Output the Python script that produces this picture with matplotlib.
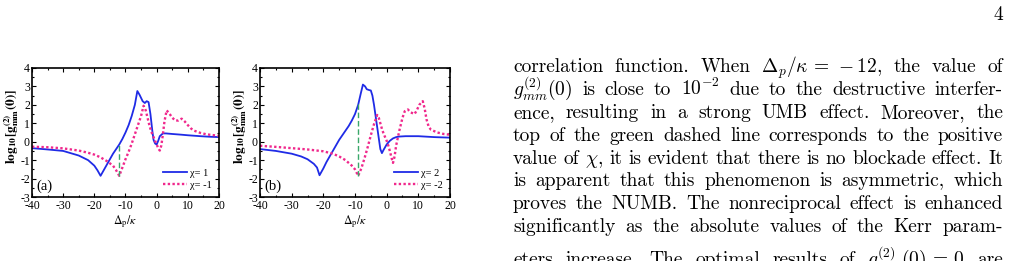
import matplotlib
matplotlib.use('Agg')
import matplotlib.pyplot as plt
from matplotlib.ticker import MultipleLocator

plt.rcParams['font.family'] = ['Liberation Serif', 'DejaVu Serif']
plt.rcParams['mathtext.fontset'] = 'cm'

W, H = 1011, 261

# panel (a): chi = 1 / chi = -1
a_pos_x = [-40, -35, -30, -25, -22, -20, -19, -18, -17, -16, -15, -14, -13, -12, -11, -10, -9, -8, -7,
           -6.2, -5.5, -4.5, -3.8, -3.2, -2.6, -2, -1.4, -1, -0.5, 0, 0.5, 1, 2, 3, 5, 8, 10, 14, 17, 20]
a_pos_y = [-0.35, -0.42, -0.5, -0.75, -1.0, -1.3, -1.55, -1.85, -1.55, -1.25, -0.95, -0.65, -0.4, -0.15,
           0.15, 0.5, 0.9, 1.4, 2.0, 2.75, 2.55, 2.2, 2.1, 2.2, 2.15, 1.5, 0.6, 0.1, -0.1, -0.15, 0.05,
           0.3, 0.45, 0.45, 0.42, 0.38, 0.35, 0.3, 0.27, 0.25]
a_neg_x = [-40, -35, -30, -25, -22, -20, -18, -16, -14, -13, -12, -11, -10, -9, -8, -7, -6, -5, -4.2,
           -3.5, -3, -2.5, -2, -1.5, -1, -0.5, 0, 0.5, 1, 1.5, 2, 2.5, 3.2, 4, 5, 6, 7, 8, 9, 10, 11,
           12, 14, 16, 18, 20]
a_neg_y = [-0.27, -0.3, -0.36, -0.48, -0.6, -0.7, -0.85, -1.05, -1.3, -1.55, -1.85, -1.4, -0.95, -0.55,
           -0.1, 0.4, 0.9, 1.4, 1.95, 1.7, 1.35, 1.0, 0.7, 0.45, 0.25, 0.05, -0.15, -0.35, -0.48, -0.2,
           0.4, 1.1, 1.7, 1.55, 1.3, 1.15, 1.15, 1.25, 1.1, 0.9, 0.72, 0.6, 0.48, 0.4, 0.36, 0.32]
a_mark_x = -12
a_mark_y = [-1.85, -0.15]

# panel (b): chi = 2 / chi = -2
b_pos_x = [-40, -35, -30, -27, -25, -23, -22, -21.2, -20, -19, -18, -17, -16, -15, -14, -13, -12, -11,
           -10, -9, -8.2, -7.5, -6.8, -6.3, -5.5, -5, -4.5, -4, -3.5, -3, -2.5, -2, -1.5, -1, 0, 1, 2,
           3, 4, 6, 10, 15, 20]
b_pos_y = [-0.4, -0.5, -0.65, -0.8, -0.95, -1.2, -1.4, -1.82, -1.45, -1.1, -0.8, -0.5, -0.2, 0.1, 0.35,
           0.6, 0.85, 1.15, 1.5, 2.0, 2.6, 3.1, 3.0, 2.85, 2.8, 2.78, 2.5, 2.0, 1.4, 0.8, 0.2, -0.4,
           -0.62, -0.45, -0.15, 0.05, 0.18, 0.25, 0.28, 0.3, 0.3, 0.25, 0.22]
b_neg_x = [-40, -35, -30, -25, -20, -17, -15, -13, -12, -11, -10, -9, -8, -7, -6, -5, -4, -3, -2.5, -2,
           -1.5, -1, -0.5, 0, 0.5, 1, 1.5, 2, 2.5, 3, 3.5, 4, 5, 5.7, 6.7, 7.5, 8.8, 9.5, 10.3, 11.4,
           12, 12.6, 13.3, 14, 16, 18, 20]
b_neg_y = [-0.22, -0.28, -0.35, -0.42, -0.52, -0.65, -0.8, -1.0, -1.15, -1.3, -1.5, -1.85, -1.45, -0.9,
           -0.3, 0.35, 0.95, 1.45, 1.3, 1.0, 0.7, 0.45, 0.25, 0.05, -0.2, -0.5, -0.85, -1.15, -0.8,
           -0.2, 0.2, 0.6, 1.3, 1.65, 1.75, 1.6, 1.5, 1.7, 2.0, 2.2, 1.8, 1.2, 0.8, 0.65, 0.5, 0.42,
           0.38]
b_mark_x = -9
b_mark_y = [-1.85, 2.05]

x_ticks = [-40, -30, -20, -10, 0, 10, 20]
x_tick_labels = ['-40', '-30', '-20', '-10', '0', '10', '20']
y_ticks = [-3, -2, -1, 0, 1, 2, 3, 4]
y_tick_labels = ['-3', '-2', '-1', '0', '1', '2', '3', '4']

text_lines = [
    r'correlation function.  When $\Delta_p/\kappa\,=\,-12$, the value of',
    r'$g_{mm}^{(2)}(0)$ is close to $10^{-2}$ due to the destructive interfer-',
    r'ence, resulting in a strong UMB effect.  Moreover, the',
    r'top of the green dashed line corresponds to the positive',
    r'value of $\chi$, it is evident that there is no blockade effect. It',
    r'is apparent that this phenomenon is asymmetric, which',
    r'proves the NUMB. The nonreciprocal effect is enhanced',
    r'significantly as the absolute values of the Kerr param-',
    r'eters increase.  The optimal results of $g_{mm}^{(2)}(0)\,=\,0$ are',
]

BLUE = '#1f2be6'
PINK = '#f0288c'
GREEN = '#3aa86a'


def fx(px):
    return px / W


def fy(py):
    return 1 - py / H


def panel(fig, left, right, top, bottom, pos, neg, mark_x, mark_y, labels, tag):
    ax = fig.add_axes([fx(left), fy(bottom), (right - left) / W, (bottom - top) / H])
    ax.plot(pos[0], pos[1], color=BLUE, lw=1.3, label=labels[0])
    ax.plot(neg[0], neg[1], color=PINK, lw=1.7, ls=(0, (1, 1)), label=labels[1])
    ax.plot([mark_x, mark_x], mark_y, color=GREEN, lw=1.0, ls=(0, (4, 2)))
    ax.set_xlim(-40, 20)
    ax.set_ylim(-3, 4)
    ax.set_xticks(x_ticks)
    ax.set_xticklabels(x_tick_labels)
    ax.set_yticks(y_ticks)
    ax.set_yticklabels(y_tick_labels)
    ax.xaxis.set_minor_locator(MultipleLocator(5))
    ax.yaxis.set_minor_locator(MultipleLocator(0.5))
    ax.tick_params(which='both', direction='in', top=True, right=True, labelsize=8.5, pad=1.5, width=0.8)
    ax.tick_params(axis='x', pad=2.5)
    ax.tick_params(which='major', length=3)
    ax.tick_params(which='minor', length=1.5)
    for s in ax.spines.values():
        s.set_linewidth(1.2)
    ax.set_xlabel(r'$\Delta_\mathrm{p}/\kappa$', fontsize=8.5, labelpad=1, math_fontfamily='stix')
    ax.text(0.025, 0.03, tag, transform=ax.transAxes, fontsize=10.5, va='bottom', ha='left')
    ax.legend(loc='lower right', frameon=False, fontsize=7.5, handlelength=2.3, handletextpad=0.3,
              labelspacing=0.25, borderaxespad=0.3)
    fig.text(fx(left - 20), fy((top + bottom) / 2 - 6), r'$\mathbf{log_{10}[g^{(2)}_{mm}(0)]}$',
             rotation=90, ha='center', va='center', fontsize=9.5, math_fontfamily='stix')
    return ax


def justify(fig, line, y_px, x0=513, x1=1003, size=14.0):
    renderer = fig.canvas.get_renderer()
    tokens = []
    cur = ''
    inmath = False
    for ch in line:
        if ch == '$':
            inmath = not inmath
        if ch == ' ' and not inmath:
            if cur:
                tokens.append(cur)
            cur = ''
        else:
            cur += ch
    if cur:
        tokens.append(cur)
    texts = [fig.text(0, fy(y_px), t, fontsize=size, family='cmr10', va='baseline', ha='left',
                      math_fontfamily='cm') for t in tokens]
    widths = [t.get_window_extent(renderer).width for t in texts]
    gap = (x1 - x0 - sum(widths)) / max(len(texts) - 1, 1)
    x = x0
    for t, w in zip(texts, widths):
        t.set_x(fx(x))
        x += w + gap


def main():
    fig = plt.figure(figsize=(W / 100, H / 100), dpi=100)
    panel(fig, 32, 219, 68, 197, (a_pos_x, a_pos_y), (a_neg_x, a_neg_y), a_mark_x, a_mark_y,
          ['χ= 1', 'χ= -1'], '(a)')
    panel(fig, 260, 450, 68, 197, (b_pos_x, b_pos_y), (b_neg_x, b_neg_y), b_mark_x, b_mark_y,
          ['χ= 2', 'χ= -2'], '(b)')

    fig.text(fx(1003), fy(20), '4', fontsize=14.0, family='cmr10', ha='right', va='baseline')
    baselines = [72.5 + 22.8 * i for i in range(8)] + [265]
    for line, y in zip(text_lines, baselines):
        justify(fig, line, y)

    fig.savefig('out.png', dpi=100)


if __name__ == '__main__':
    main()
